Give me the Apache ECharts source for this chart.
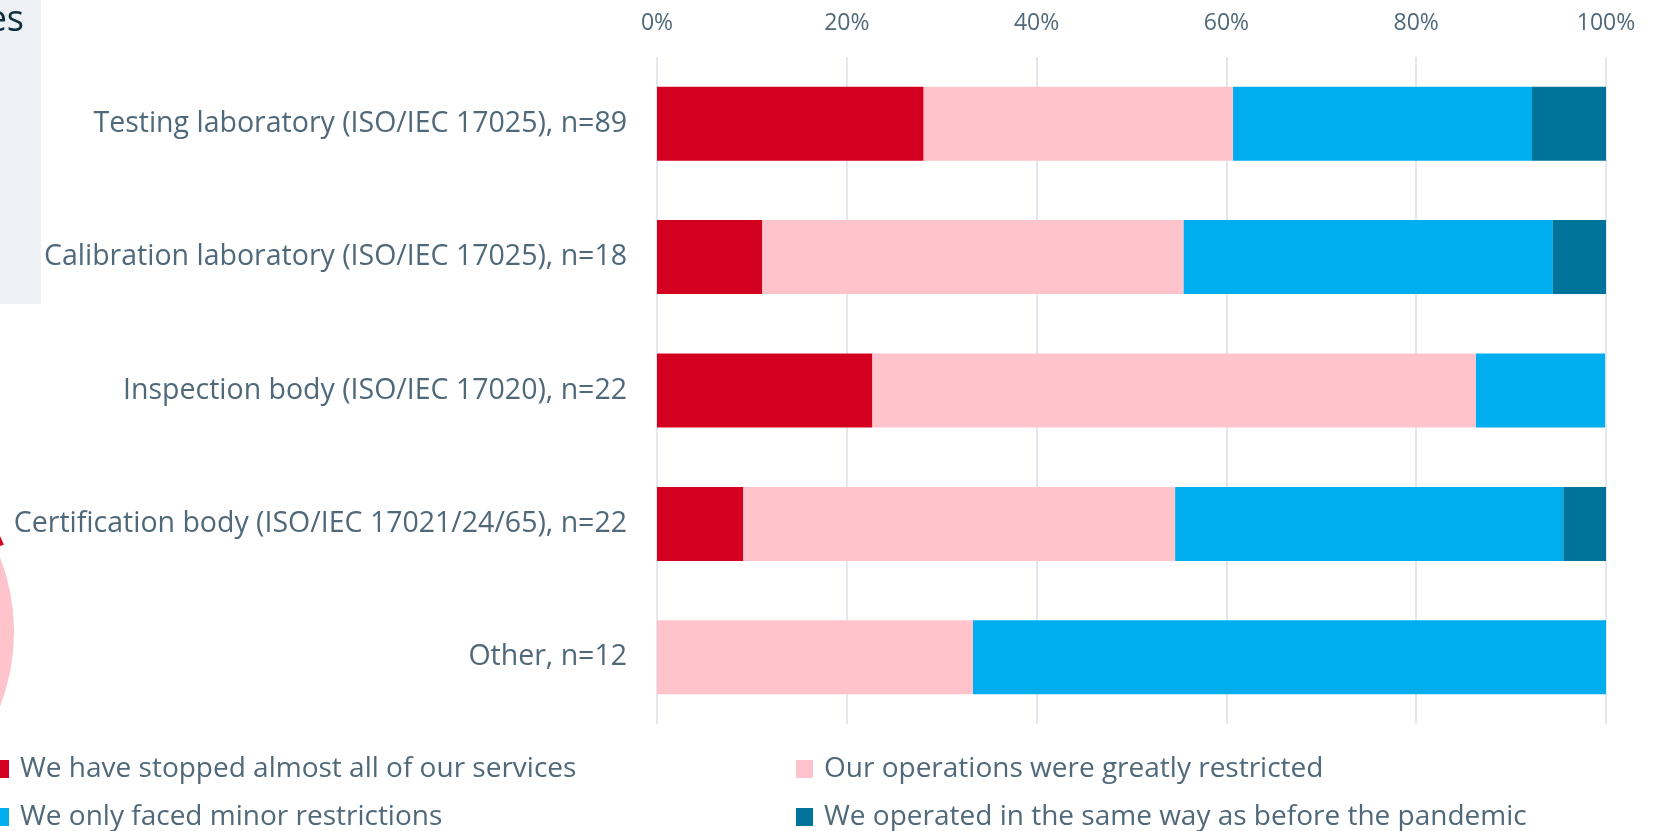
<!DOCTYPE html>
<html>
<head>
<meta charset="utf-8">
<style>
  html, body { margin: 0; padding: 0; background: #fff; }
  #chart { width: 1665px; height: 831px; }
</style>
<script src="https://cdn.jsdelivr.net/npm/echarts@6/dist/echarts.min.js"></script>
</head>
<body>
<div id="chart"></div>
<script>
// categories, top to bottom
const categories = [
  'Testing laboratory (ISO/IEC 17025), n=89',
  'Calibration laboratory (ISO/IEC 17025), n=18',
  'Inspection body (ISO/IEC 17020), n=22',
  'Certification body (ISO/IEC 17021/24/65), n=22',
  'Other, n=12'
]
const seriesNames = [
  'We have stopped almost all of our services',
  'Our operations were greatly restricted',
  'We only faced minor restrictions',
  'We operated in the same way as before the pandemic'
]
// shares in %
const stopped = [28.1, 11.1, 22.7, 9.1, 0]
const greatlyRestricted = [32.6, 44.4, 63.6, 45.5, 33.3]
const minorRestrictions = [31.5, 38.9, 13.6, 40.9, 66.7]
const sameAsBefore = [7.8, 5.6, 0, 4.5, 0]
const xTicks = [0, 20, 40, 60, 80, 100]
// cropped neighbouring pie (only its edge is visible)
const pieValues = [18.8, 45, 30, 6.2]

const colors = ['#D40020', '#FFC3CB', '#00AEEF', '#00739A']
const textColor = '#50697A'
const values = [stopped, greatlyRestricted, minorRestrictions, sameAsBefore]

const chart = echarts.init(document.getElementById('chart'))

// two stacked columns, so the second column lines up
const legendBase = {
  orient: 'vertical',
  icon: 'rect',
  padding: 0,
  height: 120,
  itemWidth: 17,
  itemHeight: 18,
  itemGap: 16,
  textStyle: {
    color: textColor,
    fontFamily: 'Open Sans',
    fontSize: 28,
    lineHeight: 32,
    padding: [0, 0, 0, 6]
  }
}

const options = {
  animation: false,
  color: colors,
  textStyle: { fontFamily: 'Open Sans' },
  graphic: [
    {
      type: 'rect',
      shape: { x: 0, y: 0, width: 41, height: 304 },
      style: { fill: '#EDF1F5' },
      silent: true
    },
    {
      type: 'text',
      style: {
        x: 24, y: 21,
        text: 'es',
        align: 'right',
        verticalAlign: 'middle',
        fill: '#0E2F3F',
        font: '36px "Open Sans"'
      },
      silent: true
    }
  ],
  legend: [
    { ...legendBase, left: -8, top: 753, data: [seriesNames[0], seriesNames[2]] },
    { ...legendBase, left: 796, top: 753, data: [seriesNames[1], seriesNames[3]] }
  ],
  grid: {
    left: 657,
    right: 59,
    top: 57,
    height: 667,
    containLabel: false
  },
  xAxis: {
    type: 'value',
    position: 'top',
    min: xTicks[0],
    max: xTicks[xTicks.length - 1],
    interval: 20,
    axisLine: { show: false },
    axisTick: { show: false },
    splitLine: { lineStyle: { color: '#D8E0E7', width: 1.5 } },
    axisLabel: {
      color: textColor,
      fontFamily: 'Open Sans',
      fontSize: 23,
      margin: 22,
      formatter: '{value}%'
    }
  },
  yAxis: {
    type: 'category',
    data: categories,
    inverse: true,
    axisLine: { show: false },
    axisTick: { show: false },
    axisLabel: {
      color: textColor,
      fontFamily: 'Open Sans',
      fontSize: 28.5,
      margin: 30
    }
  },
  series: [
    ...seriesNames.map((name, i) => ({
      name,
      type: 'bar',
      stack: 'total',
      barWidth: '55.5%',
      data: values[i],
      itemStyle: { color: colors[i] },
      emphasis: { disabled: true }
    })),
    {
      type: 'pie',
      silent: true,
      center: [-192, 632],
      radius: 207,
      startAngle: 90,
      selectedMode: 'single',
      selectedOffset: 10,
      label: { show: false },
      labelLine: { show: false },
      itemStyle: { borderColor: '#fff', borderWidth: 2 },
      data: pieValues.map((v, i) => ({
        name: 'pie' + i,
        value: v,
        selected: i === 0,
        itemStyle: { color: colors[i] }
      }))
    }
  ]
}

chart.setOption(options)
</script>
</body>
</html>
